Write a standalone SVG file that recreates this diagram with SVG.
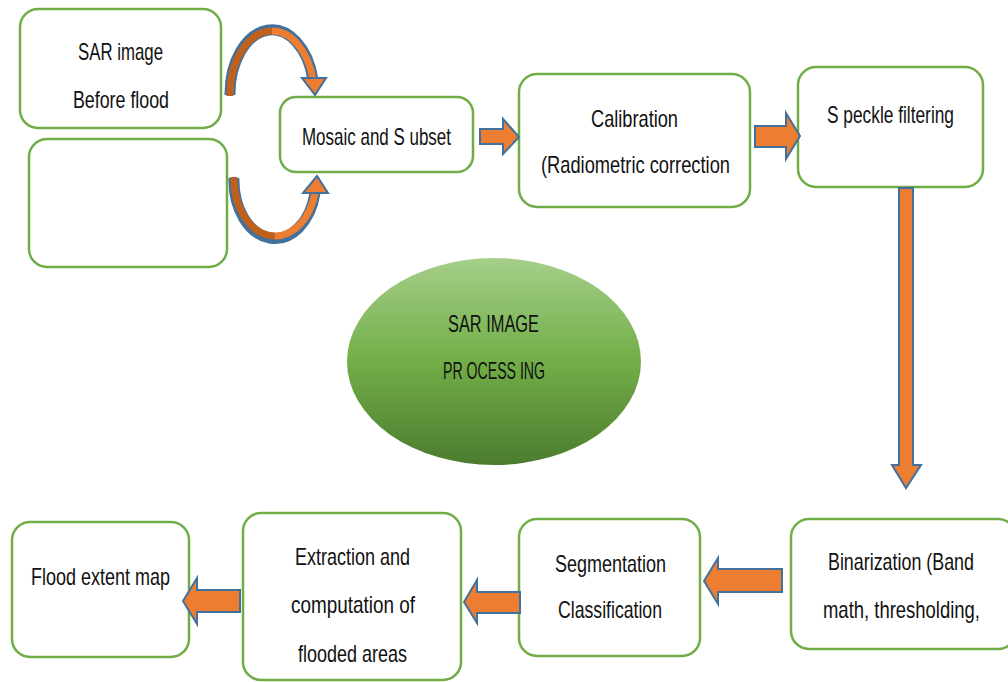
<svg xmlns="http://www.w3.org/2000/svg" width="1008" height="682" viewBox="0 0 1008 682">
<defs>
<style>
.box{fill:#fff;stroke:#70ad47;stroke-width:2.5}
.t{font-family:"Liberation Sans",Arial,sans-serif;font-size:24px;fill:#111;text-anchor:middle}
.blk{fill:#ed7d31;stroke:#41719c;stroke-width:2;stroke-linejoin:miter}
.bandO{fill:none;stroke:#41719c;stroke-width:11}
.bandL{fill:none;stroke:#ed7d31;stroke-width:7}
.bandD{fill:none;stroke:#c0601f;stroke-width:7}
</style>
<linearGradient id="eg" x1="0" y1="0" x2="0" y2="1">
<stop offset="0" stop-color="#a6cf89"/>
<stop offset="0.5" stop-color="#72ae48"/>
<stop offset="1" stop-color="#4c7b2e"/>
</linearGradient>
<clipPath id="clipEx"><rect x="243" y="513" width="218" height="149"/></clipPath>
</defs>
<rect width="1008" height="682" fill="#fff"/>

<g id="node-before">
<rect class="box" x="20" y="9" width="201" height="119" rx="18"/>
<text class="t" transform="scale(0.8 1)" x="150.625" y="60" textLength="106.25" lengthAdjust="spacingAndGlyphs">SAR image</text>
<text class="t" transform="scale(0.8 1)" x="151.25" y="108" textLength="120" lengthAdjust="spacingAndGlyphs">Before flood</text>
</g>
<g id="node-after">
<rect class="box" x="29" y="139" width="198" height="128" rx="18"/>
</g>
<g id="node-mosaic">
<rect class="box" x="280" y="97" width="193" height="75" rx="16"/>
<text class="t" transform="scale(0.8 1)" x="470.625" y="145" textLength="186.25" lengthAdjust="spacingAndGlyphs">Mosaic and S ubset</text>
</g>
<g id="node-calibration">
<rect class="box" x="519" y="74" width="231" height="133" rx="18"/>
<text class="t" transform="scale(0.8 1)" x="793.125" y="127" textLength="108.75" lengthAdjust="spacingAndGlyphs">Calibration</text>
<text class="t" transform="scale(0.8 1)" x="794.375" y="173" textLength="236.25" lengthAdjust="spacingAndGlyphs">(Radiometric correction</text>
</g>
<g id="node-speckle">
<rect class="box" x="798" y="67" width="185" height="120" rx="18"/>
<text class="t" transform="scale(0.8 1)" x="1113.125" y="123" textLength="158.75" lengthAdjust="spacingAndGlyphs">S peckle filtering</text>
</g>
<g id="node-center">
<ellipse cx="494" cy="361.5" rx="147" ry="103.5" fill="url(#eg)"/>
<text class="t" transform="scale(0.8 1)" x="616.875" y="332" textLength="113.75" lengthAdjust="spacingAndGlyphs">SAR IMAGE</text>
<text class="t" transform="scale(0.8 1)" x="617.5" y="379" textLength="127.5" lengthAdjust="spacingAndGlyphs">PR OCESS ING</text>
</g>
<g id="node-binarization">
<rect class="box" x="791" y="519" width="225" height="130" rx="18"/>
<text class="t" transform="scale(0.8 1)" x="1126.25" y="570" textLength="182.5" lengthAdjust="spacingAndGlyphs">Binarization (Band</text>
<text class="t" transform="scale(0.8 1)" x="1126.875" y="618" textLength="196.25" lengthAdjust="spacingAndGlyphs">math, thresholding,</text>
</g>
<g id="node-segmentation">
<rect class="box" x="519" y="519" width="181" height="137" rx="18"/>
<text class="t" transform="scale(0.8 1)" x="763.125" y="572" textLength="138.75" lengthAdjust="spacingAndGlyphs">Segmentation</text>
<text class="t" transform="scale(0.8 1)" x="762.5" y="618" textLength="130" lengthAdjust="spacingAndGlyphs">Classification</text>
</g>
<g id="node-extraction">
<rect class="box" x="243" y="513" width="218" height="167" rx="18"/>
<text class="t" transform="scale(0.8 1)" x="440.625" y="565" textLength="143.75" lengthAdjust="spacingAndGlyphs">Extraction and</text>
<text class="t" transform="scale(0.8 1)" x="441.25" y="613" textLength="155" lengthAdjust="spacingAndGlyphs">computation of</text>
<g clip-path="url(#clipEx)">
<text class="t" transform="scale(0.8 1)" x="440.625" y="662" textLength="136.25" lengthAdjust="spacingAndGlyphs">flooded areas</text>
</g>
</g>
<g id="node-flood">
<rect class="box" x="12" y="522" width="177" height="135" rx="18"/>
<text class="t" transform="scale(0.8 1)" x="125.625" y="585" textLength="173.75" lengthAdjust="spacingAndGlyphs">Flood extent map</text>
</g>

<g id="connectors">
<path class="bandO" d="M230,95 A42,64 0 0 1 313,80"/>
<path class="bandD" d="M230,96 A42,64 0 0 1 272,31"/>
<path class="bandL" d="M272,31 A42,64 0 0 1 313,80"/>
<polygon class="blk" points="302,78 326,78 315,95"/>
<path class="bandO" d="M234,178 A41,58 0 0 0 315,193"/>
<path class="bandD" d="M234,177 A41,58 0 0 0 275,236"/>
<path class="bandL" d="M275,236 A41,58 0 0 0 315,193"/>
<polygon class="blk" points="303,193 328,193 317,176"/>
<polygon class="blk" points="480,129 503,129 503,119 519,137 503,154 503,144 480,144"/>
<polygon class="blk" points="755,126 786,126 786,113 800,136 786,159 786,147 755,147"/>
<polygon class="blk" points="899,188 913,188 913,465 921,465 906,488 892,465 899,465"/>
<polygon class="blk" points="782,569 718,569 718,558 704,581 718,604 718,592 782,592"/>
<polygon class="blk" points="520,592 477,592 477,580 464,602 477,623 477,613 520,613"/>
<polygon class="blk" points="240,590 197,590 197,578 183,601 197,624 197,612 240,612"/>
</g>
</svg>
